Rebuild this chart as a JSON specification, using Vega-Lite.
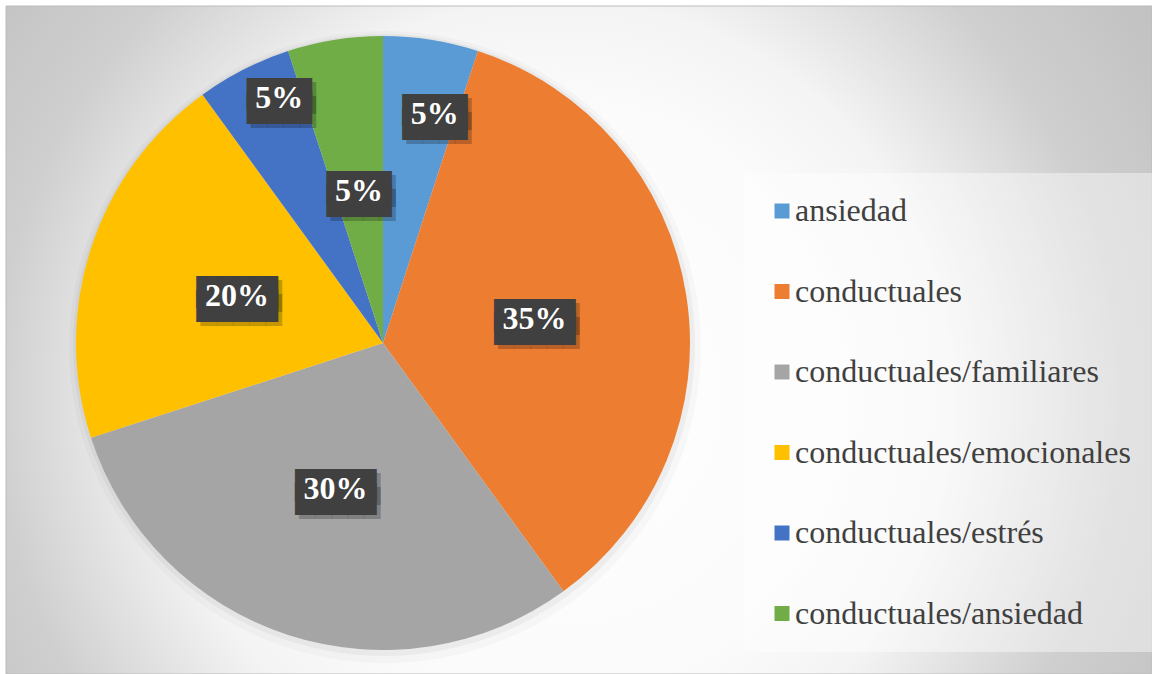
{
  "$schema": "https://vega.github.io/schema/vega-lite/v6.json",
  "width": 1146,
  "height": 668,
  "padding": {"left": 6, "top": 6, "right": 0, "bottom": 0},
  "autosize": {"type": "none"},
  "background": "#ffffff",
  "config": {"view": {"stroke": null}, "text": {"font": "Liberation Serif"}, "style": {"lbl": {"font": "Liberation Serif", "fontWeight": "bold", "fontSize": 32}}},
  "layer": [
    {
      "data": {"values": [{"bg": 1}]},
      "mark": {
        "type": "rect",
        "stroke": "#bcbcbc",
        "strokeWidth": 1,
        "color": {
          "gradient": "radial",
          "x1": 0.48, "y1": 0.55, "r1": 0,
          "x2": 0.48, "y2": 0.55, "r2": 0.628,
          "stops": [
            {"offset": 0, "color": "#ffffff"},
            {"offset": 0.4, "color": "#fbfbfb"},
            {"offset": 0.55, "color": "#f4f4f4"},
            {"offset": 0.7, "color": "#dcdcdc"},
            {"offset": 0.78, "color": "#cfcfcf"},
            {"offset": 0.93, "color": "#c5c5c5"},
            {"offset": 1, "color": "#c1c1c1"}
          ]
        }
      },
      "encoding": {}
    },
    {
      "data": {"values": [{"bg": 1}]},
      "mark": {"type": "arc", "outerRadius": 316, "x": 379, "y": 341, "color": "rgba(0,0,0,0.025)"},
      "encoding": {}
    },
    {
      "data": {"values": [{"bg": 1}]},
      "mark": {"type": "arc", "outerRadius": 311, "x": 378, "y": 339, "color": "rgba(0,0,0,0.04)"},
      "encoding": {}
    },
    {
      "data": {
        "values": [
          {"idx": 1, "cat": "ansiedad", "value": 0.05},
          {"idx": 2, "cat": "conductuales", "value": 0.35},
          {"idx": 3, "cat": "conductuales/familiares", "value": 0.30},
          {"idx": 4, "cat": "conductuales/emocionales", "value": 0.20},
          {"idx": 5, "cat": "conductuales/estrés", "value": 0.05},
          {"idx": 6, "cat": "conductuales/ansiedad", "value": 0.05}
        ]
      },
      "encoding": {
        "theta": {"field": "value", "type": "quantitative", "stack": true},
        "order": {"field": "idx", "type": "quantitative"}
      },
      "layer": [
        {
          "mark": {"type": "arc", "outerRadius": 307, "x": 377, "y": 337},
          "encoding": {
            "color": {
              "field": "cat",
              "type": "nominal",
              "scale": {
                "domain": ["ansiedad", "conductuales", "conductuales/familiares", "conductuales/emocionales", "conductuales/estrés", "conductuales/ansiedad"],
                "range": ["#5B9BD5", "#ED7D31", "#A5A5A5", "#FFC000", "#4472C4", "#70AD47"]
              },
              "legend": {
                "orient": "none",
                "legendX": 738,
                "legendY": 167,
                "title": null,
                "symbolType": "square",
                "symbolSize": 225,
                "symbolStrokeWidth": 0,
                "symbolOpacity": 1,
                "labelFont": "Liberation Serif",
                "labelFontSize": 32,
                "labelColor": "#404040",
                "labelOffset": -3,
                "labelLimit": 600,
                "rowPadding": 48.5,
                "padding": 22,
                "fillColor": "rgba(255,255,255,0.42)"
              }
            }
          }
        },
        {
          "mark": {"type": "text", "x": 377, "y": 337, "radius": 153.5, "dx": 4, "dy": 1, "text": "████\n████", "lineBreak": "\n", "font": "DejaVu Sans Mono", "fontSize": 27, "lineHeight": 14, "color": "rgba(0,0,0,0.22)"},
          "encoding": {"opacity": {"condition": {"test": "datum.value < 0.1 && datum.cat !== 'ansiedad' && datum.cat !== 'conductuales/estrés'", "value": 1}, "value": 0}}
        },
        {
          "mark": {"type": "text", "x": 377, "y": 337, "radius": 153.5, "dx": 4, "dy": 1, "text": "█████\n█████", "lineBreak": "\n", "font": "DejaVu Sans Mono", "fontSize": 27, "lineHeight": 14, "color": "rgba(0,0,0,0.22)"},
          "encoding": {"opacity": {"condition": {"test": "datum.value >= 0.1", "value": 1}, "value": 0}}
        },
        {
          "mark": {"type": "text", "x": 377, "y": 337, "radius": 153.5, "dy": -3, "text": "████\n████", "lineBreak": "\n", "font": "DejaVu Sans Mono", "fontSize": 27, "lineHeight": 14, "color": "#404040"},
          "encoding": {"opacity": {"condition": {"test": "datum.value < 0.1 && datum.cat !== 'ansiedad' && datum.cat !== 'conductuales/estrés'", "value": 1}, "value": 0}}
        },
        {
          "mark": {"type": "text", "x": 377, "y": 337, "radius": 153.5, "dy": -3, "text": "█████\n█████", "lineBreak": "\n", "font": "DejaVu Sans Mono", "fontSize": 27, "lineHeight": 14, "color": "#404040"},
          "encoding": {"opacity": {"condition": {"test": "datum.value >= 0.1", "value": 1}, "value": 0}}
        },
        {
          "mark": {"type": "text", "style": "lbl", "x": 377, "y": 337, "radius": 153.5, "color": "#ffffff"},
          "encoding": {
            "text": {"field": "value", "type": "quantitative", "format": ".0%"},
            "opacity": {"condition": {"test": "datum.cat !== 'ansiedad' && datum.cat !== 'conductuales/estrés'", "value": 1}, "value": 0}
          }
        },
        {
          "mark": {"type": "text", "x": 377, "y": 337, "radius": 235, "dx": 19, "dy": 4, "text": "████\n████", "lineBreak": "\n", "font": "DejaVu Sans Mono", "fontSize": 27, "lineHeight": 14, "color": "rgba(0,0,0,0.22)"},
          "encoding": {"opacity": {"condition": {"test": "datum.cat === 'ansiedad'", "value": 1}, "value": 0}}
        },
        {
          "mark": {"type": "text", "x": 377, "y": 337, "radius": 235, "dx": 15, "dy": 0, "text": "████\n████", "lineBreak": "\n", "font": "DejaVu Sans Mono", "fontSize": 27, "lineHeight": 14, "color": "#404040"},
          "encoding": {"opacity": {"condition": {"test": "datum.cat === 'ansiedad'", "value": 1}, "value": 0}}
        },
        {
          "mark": {"type": "text", "style": "lbl", "x": 377, "y": 337, "radius": 235, "dx": 15, "dy": 3, "color": "#ffffff"},
          "encoding": {
            "text": {"field": "value", "type": "quantitative", "format": ".0%"},
            "opacity": {"condition": {"test": "datum.cat === 'ansiedad'", "value": 1}, "value": 0}
          }
        },
        {
          "mark": {"type": "text", "x": 377, "y": 337, "radius": 266, "dx": 21, "dy": -7, "text": "████\n████", "lineBreak": "\n", "font": "DejaVu Sans Mono", "fontSize": 27, "lineHeight": 14, "color": "rgba(0,0,0,0.22)"},
          "encoding": {"opacity": {"condition": {"test": "datum.cat === 'conductuales/estrés'", "value": 1}, "value": 0}}
        },
        {
          "mark": {"type": "text", "x": 377, "y": 337, "radius": 266, "dx": 17, "dy": -11, "text": "████\n████", "lineBreak": "\n", "font": "DejaVu Sans Mono", "fontSize": 27, "lineHeight": 14, "color": "#404040"},
          "encoding": {"opacity": {"condition": {"test": "datum.cat === 'conductuales/estrés'", "value": 1}, "value": 0}}
        },
        {
          "mark": {"type": "text", "style": "lbl", "x": 377, "y": 337, "radius": 266, "dx": 17, "dy": -8, "color": "#ffffff"},
          "encoding": {
            "text": {"field": "value", "type": "quantitative", "format": ".0%"},
            "opacity": {"condition": {"test": "datum.cat === 'conductuales/estrés'", "value": 1}, "value": 0}
          }
        }
      ]
    }
  ]
}
